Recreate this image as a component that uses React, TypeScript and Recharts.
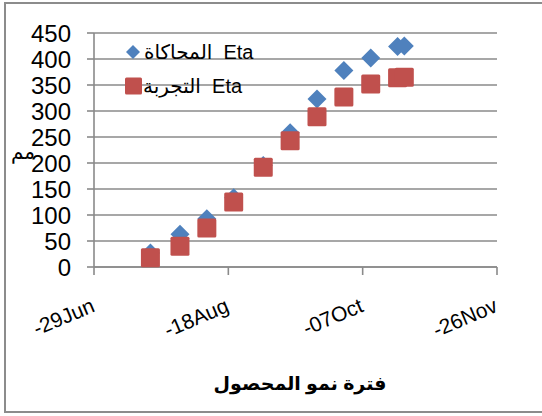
import React from 'react';
import { ScatterChart, Scatter, XAxis, YAxis, CartesianGrid } from 'recharts';

// Days counted from 29 June
const sampleDays = [21, 32, 42, 52, 63, 73, 83, 93, 103, 113, 115.5];
const etaSimulated = [27, 63, 93, 133, 195, 258, 323, 378, 402, 424, 425];
const etaMeasured = [18, 40, 75, 125, 192, 243, 289, 327, 352, 364, 365];

const xTickDays = [0, 50, 100, 150];
const xTickLabels = ['-29Jun', '-18Aug', '-07Oct', '-26Nov'];
const yTicks = [0, 50, 100, 150, 200, 250, 300, 350, 400, 450];

const simLabel = 'المحاكاة  Eta';
const expLabel = 'التجربة  Eta';
const xTitle = 'فترة نمو المحصول';
const yTitle = 'مم';

const BLUE = '#4F81BD';
const RED = '#C0504D';
const GRID = '#8a8a8a';
const FONT = '"Liberation Sans", Arial, "DejaVu Sans", sans-serif';

const simData = sampleDays.map((d, i) => ({ day: d, eta: etaSimulated[i] }));
const expData = sampleDays.map((d, i) => ({ day: d, eta: etaMeasured[i] }));

const Diamond = (props: any) => {
  const { cx, cy } = props;
  const r = 9.5;
  return (
    <polygon
      points={`${cx},${cy - r} ${cx + r},${cy} ${cx},${cy + r} ${cx - r},${cy}`}
      fill={BLUE}
    />
  );
};

const Square = (props: any) => {
  const { cx, cy } = props;
  const s = 19;
  return <rect x={cx - s / 2} y={cy - s / 2} width={s} height={s} rx={1.5} fill={RED} />;
};

const XTick = (props: any) => {
  const { x, y, payload } = props;
  const idx = xTickDays.indexOf(payload.value);
  return (
    <g transform={`translate(${x + 2},${y + 34})`}>
      <text
        x={0}
        y={0}
        textAnchor="end"
        transform="rotate(-23)"
        fontSize={21}
        fontFamily={FONT}
        fill="#000"
      >
        {idx >= 0 ? xTickLabels[idx] : ''}
      </text>
    </g>
  );
};

const YTitle = (props: any) => {
  const { viewBox } = props;
  return (
    <text
      x={viewBox.x + 23}
      y={viewBox.y + viewBox.height / 2 + 2}
      textAnchor="middle"
      dominantBaseline="central"
      fontSize={20}
      fontFamily={FONT}
      fill="#000"
    >
      {yTitle}
    </text>
  );
};

const LegendBox = () => (
  <div style={{ position: 'absolute', left: 123, top: 35, fontFamily: FONT, fontSize: 20, color: '#000' }}>
    <div style={{ display: 'flex', alignItems: 'center', height: 34 }}>
      <svg width={20} height={20} style={{ marginRight: 1 }}>
        <polygon points="10,3 17,10 10,17 3,10" fill={BLUE} />
      </svg>
      <span style={{ whiteSpace: 'pre' }}>{simLabel}</span>
    </div>
    <div style={{ display: 'flex', alignItems: 'center', height: 34 }}>
      <svg width={20} height={20}>
        <rect x={2} y={1.5} width={17} height={17} rx={1.5} fill={RED} />
      </svg>
      <span style={{ whiteSpace: 'pre' }}>{expLabel}</span>
    </div>
  </div>
);

export default function App() {
  return (
    <div style={{ position: 'absolute', left: 0, top: 0, width: 542, height: 416, background: '#fff', overflow: 'hidden' }}>
      <div
        style={{
          position: 'absolute',
          left: 4,
          top: 2,
          width: 560,
          height: 411,
          borderTop: '2px solid #8c8c8c',
          borderLeft: '2px solid #8c8c8c',
          borderBottom: '2px solid #8c8c8c',
          boxSizing: 'border-box',
        }}
      />
      <div style={{ position: 'absolute', left: 0, top: 0 }}>
        <ScatterChart width={542} height={416} margin={{ top: 33, right: 45, bottom: 89, left: 0 }}>
          <CartesianGrid vertical={false} stroke={GRID} strokeWidth={1.6} />
          <XAxis
            type="number"
            dataKey="day"
            domain={[0, 150]}
            ticks={xTickDays}
            interval={0}
            height={60}
            stroke={GRID}
            strokeWidth={1.6}
            tickSize={8}
            tick={<XTick />}
            allowDataOverflow
          />
          <YAxis
            type="number"
            dataKey="eta"
            domain={[0, 450]}
            ticks={yTicks}
            interval={0}
            width={94}
            stroke={GRID}
            strokeWidth={1.6}
            tickSize={7}
            tickMargin={16}
            tick={{ fill: '#000', fontSize: 24, fontFamily: FONT }}
            label={{ value: yTitle, content: <YTitle /> }}
          />
          <Scatter name={simLabel} data={simData} fill={BLUE} shape={<Diamond />} isAnimationActive={false} />
          <Scatter name={expLabel} data={expData} fill={RED} shape={<Square />} isAnimationActive={false} />
        </ScatterChart>
      </div>
      <LegendBox />
      <div
        style={{
          position: 'absolute',
          left: 0,
          width: 600,
          top: 372,
          textAlign: 'center',
          fontFamily: FONT,
          fontWeight: 'bold',
          fontSize: 19,
          color: '#000',
        }}
      >
        {xTitle}
      </div>
    </div>
  );
}
